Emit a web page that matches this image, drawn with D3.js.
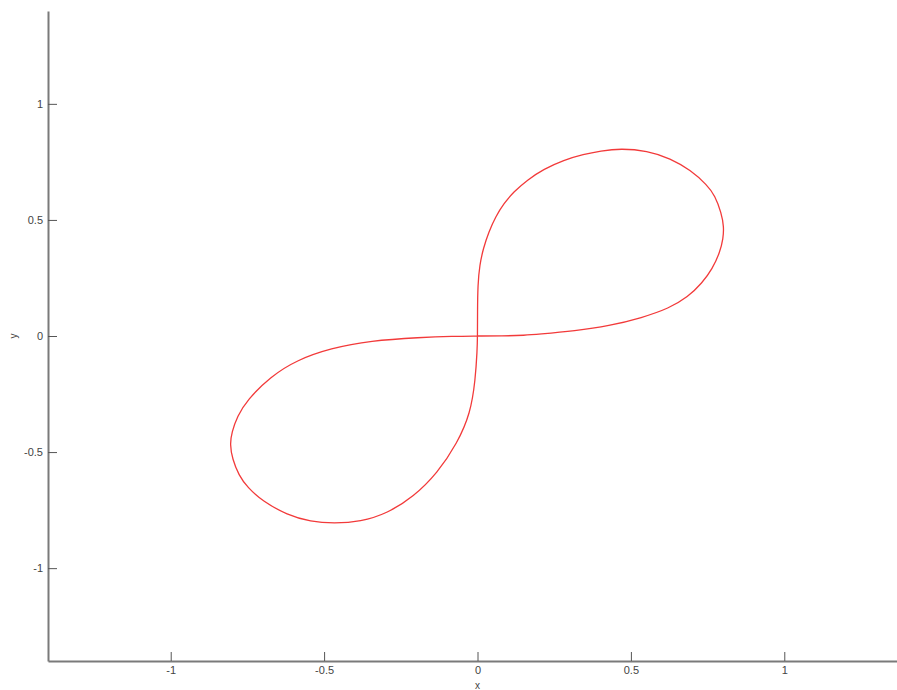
<!DOCTYPE html>
<html>
<head>
  <meta charset="utf-8">
  <title>figure eight</title>
  <script type="text/javascript" src="https://cdn.jsdelivr.net/npm/d3@7/dist/d3.min.js"></script>
  <style>
    body {
      margin: 0;
      background: #fff;
    }
    svg text {
      font-family: "Liberation Sans", Arial, sans-serif;
      font-size: 11px;
      fill: #444;
    }
  </style>
</head>
<body>
  <svg id="plot"></svg>
  <script>
    // curve points (x, y in data units)
    var curveX = [
      0, 0.08, 0.156, 0.195, 0.319, 0.428, 0.537, 0.624, 0.686, 0.732, 0.766,
      0.790, 0.801, 0.803, 0.795, 0.774, 0.749, 0.694, 0.629, 0.553, 0.466, 0.401,
      0.346, 0.281, 0.216, 0.162, 0.118, 0.086, 0.059, 0.037, 0.019, 0.007, 0.001,
      0, 0,
      -0.001, -0.007, -0.023, -0.066, -0.131, -0.208, -0.294, -0.381, -0.468,
      -0.544, -0.620, -0.700, -0.750, -0.778, -0.799, -0.807, -0.801, -0.783,
      -0.751, -0.675, -0.588, -0.479, -0.349, -0.186, -0.08, 0
    ];
    var curveY = [
      0, 0.0, 0.003, 0.007, 0.022, 0.043, 0.079, 0.119, 0.168, 0.228, 0.290,
      0.360, 0.420, 0.471, 0.530, 0.605, 0.650, 0.715, 0.765, 0.798, 0.808, 0.797,
      0.783, 0.758, 0.719, 0.672, 0.621, 0.571, 0.514, 0.449, 0.378, 0.306, 0.220,
      0.105, 0,
      -0.060, -0.189, -0.333, -0.462, -0.591, -0.692, -0.764, -0.800, -0.807,
      -0.800, -0.771, -0.712, -0.652, -0.600, -0.530, -0.466, -0.415, -0.346,
      -0.276, -0.175, -0.103, -0.053, -0.020, -0.006, -0.001, 0
    ];

    var xTicks = [-1, -0.5, 0, 0.5, 1];
    var yTicks = [-1, -0.5, 0, 0.5, 1];
    var xDomain = [-1.4, 1.4];
    var yDomain = [-1.4, 1.4];

    var width = 897,
        height = 690;

    var svg = d3.select("#plot")
        .attr("width", width)
        .attr("height", height);

    // axis box: the right end of the x range sits past the window edge
    var x = d3.scaleLinear().domain(xDomain).range([48, 907]);
    var y = d3.scaleLinear().domain(yDomain).range([661, 11]);

    var points = curveX.map(function(v, i) { return [v, curveY[i]]; });

    // plain hyphen for negatives, like the original
    function fmt(d) { return String(d); }

    svg.append("g")
        .attr("transform", "translate(0," + y(yDomain[0]) + ")")
        .call(d3.axisBottom(x).tickValues(xTicks).tickSizeInner(-9).tickSizeOuter(0)
            .tickPadding(5).tickFormat(fmt));

    svg.append("g")
        .attr("transform", "translate(" + x(xDomain[0]) + ",0)")
        .call(d3.axisLeft(y).tickValues(yTicks).tickSizeInner(-9).tickSizeOuter(0)
            .tickPadding(5).tickFormat(fmt));

    svg.selectAll(".domain")
        .attr("stroke", "#7a7a7a")
        .attr("stroke-width", 2);
    svg.selectAll(".tick line")
        .attr("stroke", "#555")
        .attr("stroke-width", 1);
    svg.selectAll(".tick text")
        .attr("fill", "#444")
        .style("font-size", "11px");

    // axis titles
    svg.append("text")
        .attr("x", x(0))
        .attr("y", 689)
        .attr("text-anchor", "middle")
        .style("font-size", "10px")
        .text("x");

    svg.append("text")
        .attr("transform", "translate(17," + y(0) + ") rotate(-90)")
        .attr("text-anchor", "middle")
        .style("font-size", "10px")
        .text("y");

    var line = d3.line()
        .x(function(d) { return x(d[0]); })
        .y(function(d) { return y(d[1]); })
        .curve(d3.curveBasis);

    svg.append("path")
        .datum(points)
        .attr("fill", "none")
        .attr("stroke", "#f23a3a")
        .attr("stroke-width", 1.3)
        .attr("d", line);
  </script>
</body>
</html>
